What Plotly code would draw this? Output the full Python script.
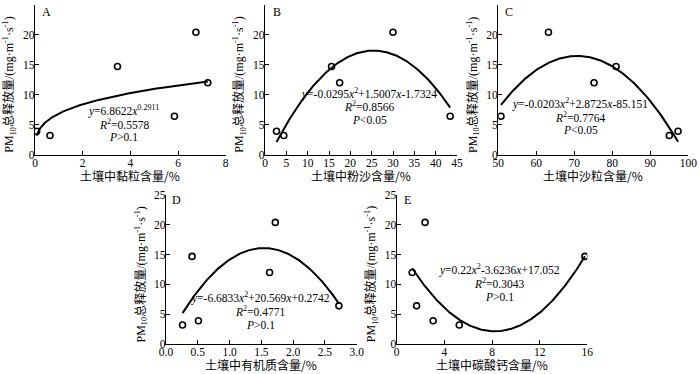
import numpy as np
import plotly.graph_objects as go

# ---- data ----
pm10 = [3.9, 3.2, 14.7, 12.0, 20.4, 6.4]
clay = [0.07, 0.63, 3.46, 7.25, 6.75, 5.85]
silt = [2.7, 4.4, 15.6, 17.5, 30.0, 43.4]
sand = [97.3, 95.0, 81.0, 75.2, 63.2, 50.7]
organic = [0.51, 0.26, 0.41, 1.63, 1.72, 2.72]
caco3 = [3.06, 5.25, 15.8, 1.30, 2.38, 1.67]

panel_letters = ["A", "B", "C", "D", "E"]
x_titles = ["土壤中黏粒含量/%", "土壤中粉沙含量/%", "土壤中沙粒含量/%",
            "土壤中有机质含量/%", "土壤中碳酸钙含量/%"]
y_title = "PM<sub>10</sub>总释放量/(mg·m<sup>-1</sup>·s<sup>-1</sup>)"

# fitted trendline coefficients as printed on the chart
power_fit_A = [6.8622, 0.2911]
quad_fit_B = [-0.0295, 1.5007, -1.7324]
quad_fit_C = [-0.0203, 2.8725, -85.151]
quad_fit_D = [-6.6833, 20.569, 0.2742]
quad_fit_E = [0.22, -3.6236, 17.052]

eq_texts = [
    ["<i>y</i>=6.8622<i>x</i><sup>0.2911</sup>", "<i>R</i><sup>2</sup>=0.5578", "<i>P</i>>0.1"],
    ["<i>y</i>=-0.0295<i>x</i><sup>2</sup>+1.5007<i>x</i>-1.7324", "<i>R</i><sup>2</sup>=0.8566", "<i>P</i><0.05"],
    ["<i>y</i>=-0.0203<i>x</i><sup>2</sup>+2.8725<i>x</i>-85.151", "<i>R</i><sup>2</sup>=0.7764", "<i>P</i><0.05"],
    ["<i>y</i>=-6.6833<i>x</i><sup>2</sup>+20.569<i>x</i>+0.2742", "<i>R</i><sup>2</sup>=0.4771", "<i>P</i>>0.1"],
    ["<i>y</i>=0.22<i>x</i><sup>2</sup>-3.6236<i>x</i>+17.052", "<i>R</i><sup>2</sup>=0.3043", "<i>P</i>>0.1"],
]

x_ranges = [[0, 8], [0, 45], [50, 100], [0, 3.0], [0, 16]]
x_dticks = [2, 5, 10, 0.5, 4]
x_formats = ["d", "d", "d", ".1f", "d"]

# ---- layout geometry (pixels) ----
W, H = 700, 374
px_x = [(35, 225.7), (265, 457), (498.3, 688.3), (166, 356.7), (396.7, 587.3)]
px_y = [(4.7, 154.7)] * 3 + [(195, 344)] * 2
eq_pos = [(124, [110, 123.5, 137]), (369, [93, 106.5, 120]), (580, [103, 116.5, 130]),
          (260, [297.5, 311, 324.5]), (499, [269.5, 283, 296.5])]
letter_pos = [(46, 12), (277, 12), (509, 12), (177, 200), (407, 200)]

SERIF = "Liberation Serif, Times New Roman, Noto Sans CJK SC, serif"
CJK = "Noto Sans CJK SC, Liberation Serif, serif"

xs_all = [clay, silt, sand, organic, caco3]


def curve(i):
    lo, hi = min(xs_all[i]), max(xs_all[i])
    xx = np.linspace(lo, hi, 200)
    if i == 0:
        a, b = power_fit_A
        return xx, a * xx ** b
    c = [quad_fit_B, quad_fit_C, quad_fit_D, quad_fit_E][i - 1]
    return xx, c[0] * xx ** 2 + c[1] * xx + c[2]


fig = go.Figure()
layout = dict(width=W, height=H, autosize=False,
              margin=dict(l=0, r=0, t=0, b=0, pad=0, autoexpand=False),
              paper_bgcolor="white", plot_bgcolor="white",
              showlegend=False, font=dict(family=SERIF, size=11.5, color="black"))
annotations = []

for i in range(5):
    sfx = "" if i == 0 else str(i + 1)
    xa, ya = "x" + sfx, "y" + sfx
    cx, cy = curve(i)
    fig.add_trace(go.Scatter(x=cx, y=cy, mode="lines", xaxis=xa, yaxis=ya,
                             line=dict(color="black", width=2), hoverinfo="skip"))
    fig.add_trace(go.Scatter(x=xs_all[i], y=pm10, mode="markers", xaxis=xa, yaxis=ya,
                             marker=dict(symbol="circle-open", size=6, color="black",
                                         line=dict(width=1.6, color="black"))))
    x0, x1 = px_x[i]
    y0, y1 = px_y[i]
    layout["xaxis" + sfx] = dict(
        domain=[x0 / W, x1 / W], anchor=ya, range=x_ranges[i], dtick=x_dticks[i],
        tick0=x_ranges[i][0], tickformat=x_formats[i], automargin=False,
        ticklabelstandoff=-3,
        showline=True, linecolor="black", linewidth=1.3, ticks="inside", ticklen=4,
        tickwidth=1.2, tickcolor="black", showgrid=False, zeroline=False,
        tickfont=dict(family=SERIF, size=11.5, color="black"), fixedrange=True)
    layout["yaxis" + sfx] = dict(
        domain=[1 - y1 / H, 1 - y0 / H], anchor=xa, range=[0, 25], dtick=5,
        automargin=False, ticklabelstandoff=-3,
        showline=True, linecolor="black", linewidth=1.3, ticks="inside", ticklen=4,
        tickwidth=1.2, tickcolor="black", showgrid=False, zeroline=False,
        tickfont=dict(family=SERIF, size=11.5, color="black"), fixedrange=True)
    # x-axis title
    annotations.append(dict(text=x_titles[i], xref="paper", yref="paper",
                            x=(x0 + x1) / 2 / W, y=1 - (y1 + 20.5) / H,
                            showarrow=False, xanchor="center", yanchor="middle",
                            font=dict(family=CJK, size=12, color="black")))
    # y-axis title
    annotations.append(dict(text=y_title, xref="paper", yref="paper",
                            x=(x0 - 25) / W, y=1 - ((y0 + y1) / 2 + 5) / H, textangle=-90,
                            showarrow=False, xanchor="center", yanchor="middle",
                            font=dict(family=SERIF, size=12, color="black")))
    # panel letter
    lx, ly = letter_pos[i]
    annotations.append(dict(text=panel_letters[i], xref="paper", yref="paper",
                            x=lx / W, y=1 - ly / H, showarrow=False,
                            xanchor="center", yanchor="middle",
                            font=dict(family=SERIF, size=12, color="black")))
    # equation text
    ex, eys = eq_pos[i]
    for t, ey in zip(eq_texts[i], eys):
        annotations.append(dict(text=t, xref="paper", yref="paper",
                                x=ex / W, y=1 - ey / H, showarrow=False,
                                xanchor="center", yanchor="middle",
                                font=dict(family=SERIF, size=11.5, color="black")))

layout["annotations"] = annotations
fig.update_layout(**layout)
fig.write_html("out.html", config={"displayModeBar": False},
               post_script="document.body.style.margin='0';")
